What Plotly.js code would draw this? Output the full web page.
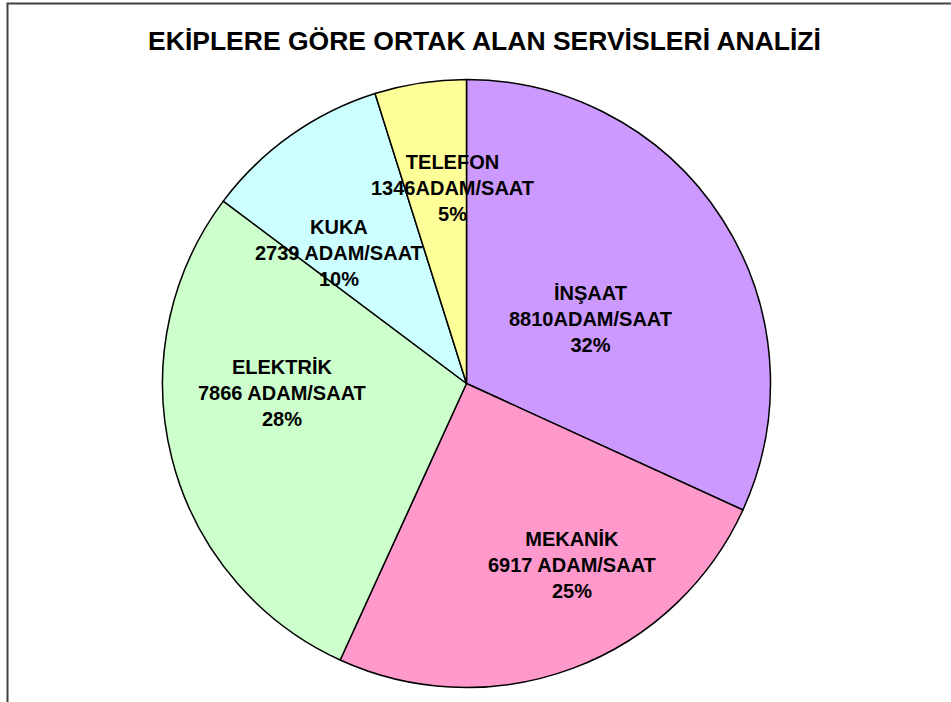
<!DOCTYPE html>
<html>
<head>
<meta charset="utf-8">
<script src="https://cdn.plot.ly/plotly-3.0.1.min.js"></script>
<style>
  html, body { margin: 0; padding: 0; background: #fff; }
  #chart { width: 951px; height: 702px; }
</style>
</head>
<body>
<div id="chart"></div>
<script>
// ekiplere gore ortak alan servisleri (adam/saat)
var ekipler = ['İNŞAAT', 'MEKANİK', 'ELEKTRİK', 'KUKA', 'TELEFON'];
var adamSaat = [8810, 6917, 7866, 2739, 1346];
var ayrac = ['', ' ', ' ', ' ', ''];   // orijinalde bazi etiketlerde bosluk yok
var renkler = ['#CC99FF', '#FF99CC', '#CCFFCC', '#CCFFFF', '#FFFF99'];

// etiket merkezleri (piksel)
var etiketYer = [[590, 319], [572, 565], [282, 393], [339, 253], [452, 188]];

var W = 951, H = 702;
var toplam = adamSaat.reduce(function (a, b) { return a + b; }, 0);

var notlar = ekipler.map(function (ad, i) {
  var yuzde = Math.round(adamSaat[i] / toplam * 100);
  return {
    text: ad + '<br>' + adamSaat[i] + ayrac[i] + 'ADAM/SAAT<br>' + yuzde + '%',
    xref: 'paper', yref: 'paper',
    x: etiketYer[i][0] / W,
    y: 1 - etiketYer[i][1] / H,
    xanchor: 'center', yanchor: 'middle',
    showarrow: false,
    align: 'center',
    font: {family: 'Liberation Sans, Arial, sans-serif', size: 20, color: '#000', weight: 'bold'}
  };
});

var cx = 466.5, cy = 383.5, r = 304;

var trace = {
  type: 'pie',
  labels: ekipler,
  values: adamSaat,
  sort: false,
  direction: 'clockwise',
  rotation: 0,
  textinfo: 'none',
  hoverinfo: 'label+value+percent',
  marker: {colors: renkler, line: {color: '#000', width: 1.5}},
  domain: {
    x: [(cx - r) / W, (cx + r) / W],
    y: [(H - cy - r) / H, (H - cy + r) / H]
  },
  showlegend: false
};

var layout = {
  width: W, height: H,
  margin: {l: 0, r: 0, t: 0, b: 0},
  paper_bgcolor: '#fff',
  title: {
    text: 'EKİPLERE GÖRE ORTAK ALAN SERVİSLERİ ANALİZİ',
    font: {family: 'Liberation Sans, Arial, sans-serif', size: 26.5, color: '#000', weight: 'bold'},
    x: 484.5 / W, xanchor: 'center',
    xref: 'container', yref: 'container',
    y: 1 - 41 / H, yanchor: 'middle'
  },
  annotations: notlar,
  shapes: [{
    type: 'rect', xref: 'paper', yref: 'paper',
    x0: 7.5 / W, x1: 1.05, y0: -0.05, y1: 1 - 3.5 / H,
    line: {color: '#404040', width: 2}
  }]
};

Plotly.newPlot('chart', [trace], layout, {displayModeBar: false, staticPlot: true});
</script>
</body>
</html>
